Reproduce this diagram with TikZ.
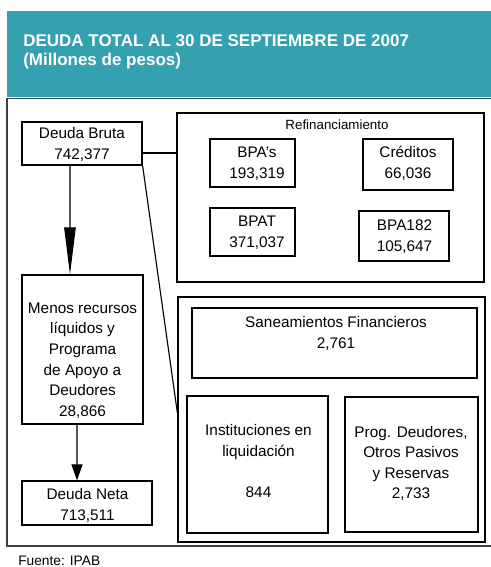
\documentclass[tikz,border=0pt]{standalone}
\usepackage{fontspec}
\setmainfont{Liberation Sans}
\usetikzlibrary{arrows.meta, positioning}
\newdimen\pxu \pxu=0.75pt
\definecolor{headteal}{RGB}{51,161,176}
\tikzset{
	box/.style={shape=rectangle, draw, line width=0.9pt, inner sep=0pt},
	boxtext/.style={anchor=center, align=center, inner sep=0pt, font=\fontsize{11.5}{15.45}\selectfont},
	wire/.style={line width=0.85pt},
	bigarrow/.style={wire, -{Triangle[length=35.25pt, width=8.6pt]}},
	smallarrow/.style={wire, -{Triangle[length=12pt, width=8.25pt]}},
}
\begin{document}
\begin{tikzpicture}[x=0.75pt, y=-0.75pt]
	\useasboundingbox (0,0) rectangle (491,567);
	% Header, frame, boxes and wires:
	\fill[headteal] (7,11) rectangle (495,97);
	\node[anchor=north west, align=left, inner sep=0pt, text=white, font=\fontsize{12.75}{14.25}\selectfont\bfseries] (title) at (23,34.3) {DEUDA TOTAL AL 30 DE SEPTIEMBRE DE 2007\\(Millones de pesos)};
	\draw[line width=0.9pt, black!75] (7,98.5) rectangle (495,546);
	\node[box, minimum width=120\pxu, minimum height=43\pxu] (bruta) at (82, 143.5){} node[boxtext] (bruta text) at (82, 144.5){Deuda Bruta\\742,377};
	\node[box, minimum width=121\pxu, minimum height=149\pxu] (menos) at (82.5, 349.5){} node[boxtext] (menos text) at (82.5, 360.5){Menos recursos\\líquidos y\\Programa\\de Apoyo a\\Deudores\\28,866};
	\node[box, minimum width=130\pxu, minimum height=44\pxu] (neta) at (87, 503){} node[boxtext] (neta text) at (87.5, 505.5){Deuda Neta\\713,511};
	\node[box, minimum width=307\pxu, minimum height=169\pxu] (refbox) at (330.5, 197.5){} node[anchor=center, inner sep=0pt, font=\fontsize{10}{12}\selectfont] (ref title) at (337, 124.5){Refinanciamiento};
	\node[box, minimum width=85\pxu, minimum height=48\pxu] (bpas) at (252.5, 163){} node[boxtext] (bpas text) at (257, 163.5){BPA's\\193,319};
	\node[box, minimum width=90\pxu, minimum height=51\pxu] (creditos) at (408, 164.5){} node[boxtext] (creditos text) at (408, 163.5){Créditos\\66,036};
	\node[box, minimum width=85\pxu, minimum height=48\pxu] (bpat) at (252.5, 232){} node[boxtext] (bpat text) at (257, 233){BPAT\\371,037};
	\node[box, minimum width=90\pxu, minimum height=50\pxu] (bpa182) at (404, 236){} node[boxtext] (bpa182 text) at (404.5, 236.5){BPA182\\105,647};
	\node[box, minimum width=307\pxu, minimum height=245\pxu] (lowbox) at (331.5, 419.5){};
	\node[box, minimum width=285\pxu, minimum height=70\pxu] (sanea) at (334.5, 343){} node[boxtext] (sanea text) at (336, 333.5){Saneamientos Financieros\\2,761};
	\node[box, minimum width=141\pxu, minimum height=137\pxu] (inst) at (257.5, 464.5){} node[boxtext] (inst text) at (258.5, 461){Instituciones en\\liquidación\\[15.45pt]844};
	\node[box, minimum width=133\pxu, minimum height=135\pxu] (prog) at (411.5, 464.5){} node[boxtext] (prog text) at (411, 463.5){Prog. Deudores,\\Otros Pasivos\\y Reservas\\2,733};
	\draw[bigarrow] ([xshift=-9pt]bruta.south) -- ([xshift=-9.4pt]menos.north);
	\draw[smallarrow] ([xshift=-4.1pt]menos.south) -- ([xshift=-7.5pt]neta.north);
	\draw[wire] ([yshift=-7.1pt]bruta.east) -- ([yshift=33.4pt]refbox.west);
	\draw[wire] (bruta.south east) -- ([yshift=4.9pt]lowbox.west);
	\node[anchor=base west, inner sep=0pt, font=\fontsize{10.3}{12}\selectfont] (source) at (18, 565){Fuente: IPAB};
\end{tikzpicture}
\end{document}
